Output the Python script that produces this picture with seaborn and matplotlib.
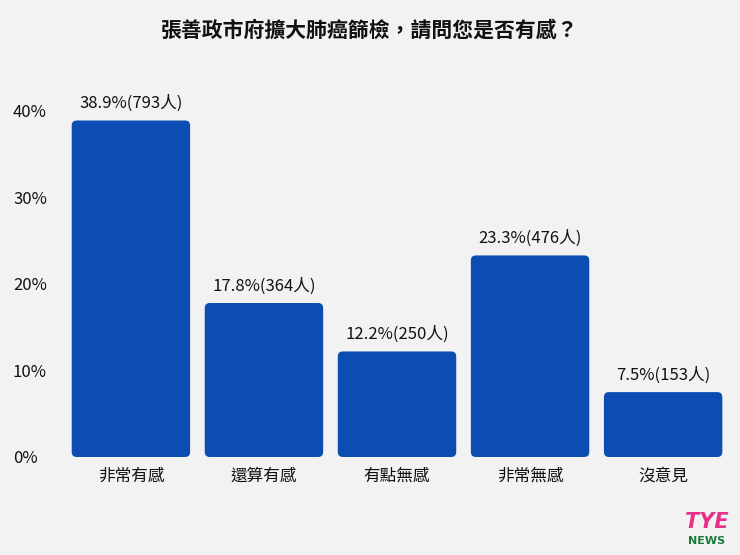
import matplotlib
matplotlib.use("Agg")
import matplotlib.pyplot as plt
import seaborn as sns
import pandas as pd
from matplotlib.patches import FancyBboxPatch

categories = ["非常有感", "還算有感", "有點無感", "非常無感", "沒意見"]
percents = [38.9, 17.8, 12.2, 23.3, 7.5]
counts = [793, 364, 250, 476, 153]

df = pd.DataFrame({"cat": categories, "pct": percents})

sns.set_style("white")
plt.rcParams['font.family'] = ['Noto Sans CJK TC', 'DejaVu Sans']
bg = "#f2f2f2"
blue = "#0b4db3"

fig = plt.figure(figsize=(7.4, 5.55), dpi=100, facecolor=bg)
ax = fig.add_axes([0.087, 0.1766, 0.899, 0.6546], facecolor=bg)
sns.barplot(data=df, x="cat", y="pct", color=blue, width=0.89, ax=ax, saturation=1)

ax.set_xlim(-0.5, 4.5)
ax.set_ylim(0, 42)

# rounded bar tops
xs_per_px = 5 / (0.899 * 740)
ys_per_px = 42 / (0.6546 * 555)
for p in list(ax.patches):
    x, y, w, h = p.get_x(), p.get_y(), p.get_width(), p.get_height()
    p.remove()
    ax.add_patch(FancyBboxPatch((x, y), w, h,
                                boxstyle="round,pad=0,rounding_size=%f" % (5 * xs_per_px),
                                mutation_aspect=ys_per_px / xs_per_px,
                                fc=blue, ec="none"))

for i, (pc, n) in enumerate(zip(percents, counts)):
    ax.text(i, pc + 1.0, f"{pc}%({n}人)", ha="center", va="bottom", fontsize=12, color="#111111")

ax.set_yticks([0, 10, 20, 30, 40])
ax.set_yticklabels(["0%", "10%", "20%", "30%", "40%"], fontsize=12, color="#111111")
ax.tick_params(axis="x", labelsize=12, colors="#111111", length=0, pad=8)
ax.tick_params(axis="y", length=0, pad=37)
for lbl in ax.get_yticklabels():
    lbl.set_horizontalalignment("left")
ax.set_xlabel("")
ax.set_ylabel("")
sns.despine(ax=ax, left=True, bottom=True, top=True, right=True)

fig.text(0.5, 0.945, "張善政市府擴大肺癌篩檢，請問您是否有感？", ha="center", va="center",
         fontsize=15, fontweight="bold", color="#111111")

fig.text(0.955, 0.06, "TYE", ha="center", va="center", fontsize=15, fontweight="bold",
         color="#e8308a", style="italic", family=["DejaVu Sans"])
fig.text(0.955, 0.025, "NEWS", ha="center", va="center", fontsize=8, fontweight="bold",
         color="#1a7a3a", family=["DejaVu Sans"])

fig.savefig("out.png", dpi=100, facecolor=bg)
